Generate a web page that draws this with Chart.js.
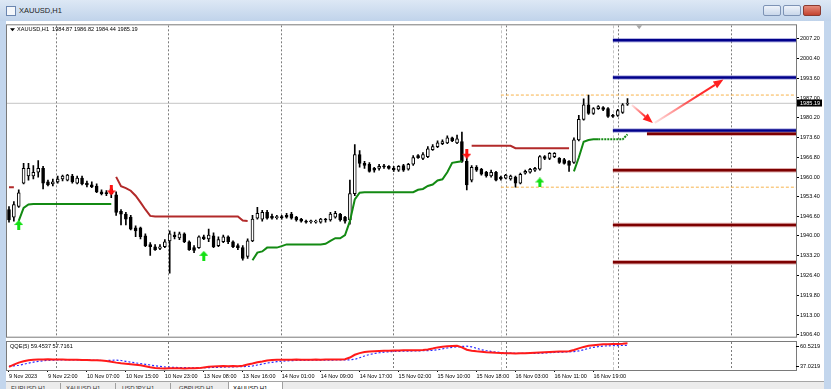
<!DOCTYPE html>
<html>
<head>
<meta charset="utf-8">
<script src="https://cdn.jsdelivr.net/npm/chart.js@4.4.1/dist/chart.umd.min.js"></script>
<style>
html, body { margin: 0; padding: 0; }
body { width: 831px; height: 389px; overflow: hidden; position: relative; background: #c3d6ed; font-family: 'Liberation Sans', Arial, sans-serif; }
#title { position: absolute; left: 0; top: 0; width: 831px; height: 21px; background: linear-gradient(#dde8f5, #c0d3ea); }
#ico { position: absolute; left: 6px; top: 6px; width: 8px; height: 8px; border: 1px solid #6b86b0; background: #f4f7fb; }
#ttl { position: absolute; left: 19px; top: 6px; font-size: 7.5px; color: #1e1e1e; }
.wbtn { position: absolute; top: 5px; width: 18px; height: 11px; border: 1px solid #7d93b5; border-radius: 2px; background: linear-gradient(#eef3fa, #c9d7ea); box-sizing: border-box; }
.wbtn.close { background: linear-gradient(#e58b7b, #c4432f); border-color: #8a3a30; }
#client { position: absolute; left: 6px; top: 21px; width: 818px; height: 360px; background: #fff; }
canvas { position: absolute; }
#main { left: 6px; top: 21px; }
#qqe { left: 6px; top: 341px; }
#tabs { position: absolute; left: 6px; top: 381px; width: 818px; height: 8px; background: #ececec; border-top: 1px solid #a5a5a5; overflow: hidden; box-sizing: border-box; }
.tab { position: absolute; top: 3px; font-size: 6px; color: #333; }
.sep { position: absolute; top: 1px; width: 1px; height: 8px; background: #a0a0a0; }
.act { position: absolute; left: 222px; top: -1px; width: 55px; height: 9px; background: #fff; border: 1px solid #a0a0a0; box-sizing: border-box; }
</style>
</head>
<body>
<div id="title">
  <div id="ico"></div>
  <span id="ttl">XAUUSD,H1</span>
  <div class="wbtn" style="left:763px"></div>
  <div class="wbtn" style="left:783px"></div>
  <div class="wbtn close" style="left:803px"></div>
</div>
<div id="client"></div>
<canvas id="main" width="818" height="320"></canvas>
<canvas id="qqe" width="818" height="40"></canvas>
<div id="tabs">
  <span class="tab" style="left:5px">EURUSD,H1</span>
  <div class="sep" style="left:54px"></div>
  <span class="tab" style="left:60px">XAUUSD,H1</span>
  <div class="sep" style="left:109px"></div>
  <span class="tab" style="left:116px">USDJPY,H1</span>
  <div class="sep" style="left:164px"></div>
  <span class="tab" style="left:173px">GBPUSD,H1</span>
  <div class="act"></div>
  <span class="tab" style="left:227px;color:#000">XAUUSD,H1</span>
</div>
<script>
const FONT = "'Liberation Sans', Arial, sans-serif";
Chart.defaults.font.family = FONT;
Chart.defaults.font.size = 5.5;
Chart.defaults.color = '#000';

// ---- data ----
const symbol = 'XAUUSD,H1';

const opens = [1949.0,1946.4,1950.0,1958.0,1960.4,1960.4,1961.7,1963.0,1958.4,1957.7,
  1958.4,1959.4,1959.0,1960.4,1958.0,1959.7,1958.0,1957.4,1957.0,1955.0,
  1954.7,1954.4,1954.0,1948.4,1947.4,1946.4,1942.7,1942.7,1940.0,1937.0,
  1936.3,1935.7,1936.3,1938.3,1940.3,1939.3,1940.7,1938.0,1936.0,1936.0,
  1939.7,1939.0,1940.0,1936.7,1938.0,1939.7,1938.0,1936.7,1936.0,1933.0,
  1938.3,1946.0,1945.7,1948.0,1946.7,1946.2,1946.4,1947.0,1947.4,1946.4,
  1945.7,1945.0,1944.8,1944.7,1944.7,1945.7,1945.4,1946.4,1947.4,1946.4,
  1945.4,1954.4,1967.7,1964.7,1964.4,1963.0,1963.0,1963.7,1963.7,1963.0,
  1962.4,1964.0,1962.7,1964.4,1967.4,1966.4,1967.0,1969.4,1970.4,1971.4,
  1971.7,1973.4,1971.7,1972.1,1965.4,1959.0,1963.4,1962.7,1961.7,1960.4,
  1961.7,1960.0,1959.7,1959.4,1960.0,1958.0,1961.4,1961.7,1962.4,1962.7,
  1967.0,1966.4,1967.0,1966.4,1966.0,1965.4,1965.0,1972.7,1979.7,1984.7,
  1981.7,1983.4,1983.7,1983.4,1981.1,1981.1,1982.1,1984.87];
const highs = [1950.0,1951.7,1955.7,1964.7,1964.7,1964.0,1965.7,1963.7,1959.0,1959.4,
  1960.4,1960.7,1961.0,1961.0,1960.4,1960.4,1958.7,1958.4,1957.7,1955.7,
  1955.4,1957.0,1955.0,1949.0,1948.0,1947.0,1943.4,1943.0,1940.7,1937.7,
  1937.0,1937.0,1938.7,1941.7,1941.3,1941.3,1941.0,1938.3,1936.7,1940.0,
  1940.3,1942.3,1941.0,1939.7,1940.3,1940.0,1938.3,1937.3,1936.7,1939.0,
  1947.0,1949.7,1948.7,1948.7,1947.4,1947.0,1947.0,1947.7,1948.0,1946.7,
  1946.0,1945.4,1945.4,1945.4,1946.0,1946.0,1948.0,1948.4,1947.7,1946.7,
  1959.0,1971.1,1969.1,1965.4,1965.0,1963.4,1964.4,1964.4,1964.0,1963.7,
  1964.0,1964.4,1964.7,1967.4,1967.7,1968.4,1970.4,1971.1,1972.4,1972.7,
  1974.1,1973.7,1974.4,1975.4,1966.7,1964.0,1964.0,1963.0,1962.0,1962.4,
  1962.0,1960.4,1961.0,1960.7,1960.4,1961.4,1962.4,1963.0,1963.4,1967.4,
  1967.4,1968.4,1968.4,1966.7,1966.4,1965.7,1973.4,1981.1,1986.7,1988.0,
  1983.7,1984.4,1984.1,1983.7,1981.4,1983.1,1985.1,1986.82];
const lows = [1944.7,1945.0,1949.7,1957.7,1959.0,1959.4,1960.0,1956.0,1957.0,1957.0,
  1958.0,1958.7,1958.7,1958.0,1957.7,1957.4,1956.7,1956.4,1954.7,1954.0,
  1953.7,1953.0,1947.0,1943.7,1943.7,1942.0,1939.7,1939.0,1936.3,1933.3,
  1935.0,1935.3,1936.0,1927.3,1939.0,1938.7,1937.7,1935.0,1934.3,1935.7,
  1938.7,1938.0,1936.0,1936.3,1937.7,1937.3,1936.0,1935.3,1931.7,1932.3,
  1938.0,1945.7,1945.0,1945.7,1945.7,1945.7,1945.7,1946.0,1945.7,1945.0,
  1944.7,1944.3,1944.3,1944.3,1944.3,1944.7,1945.0,1946.0,1945.0,1944.3,
  1944.0,1953.7,1963.4,1963.0,1961.7,1961.7,1962.4,1963.0,1962.7,1962.0,
  1962.0,1962.0,1962.4,1964.0,1966.4,1966.0,1966.7,1969.1,1970.1,1971.1,
  1971.4,1972.1,1971.4,1965.0,1955.7,1958.4,1962.0,1960.7,1960.0,1960.0,
  1958.7,1959.0,1959.4,1959.0,1956.6,1957.7,1961.0,1961.4,1962.0,1962.4,
  1966.0,1966.0,1966.7,1964.7,1964.4,1962.0,1964.7,1972.4,1979.4,1981.4,
  1981.4,1983.1,1982.7,1980.4,1980.4,1980.7,1981.7,1984.44];
const closes = [1945.4,1950.7,1954.7,1963.0,1963.0,1961.7,1963.0,1958.0,1957.4,1958.4,
  1959.4,1960.4,1960.7,1958.4,1959.7,1957.7,1957.4,1956.7,1955.0,1954.4,
  1954.4,1956.0,1948.0,1947.4,1945.7,1942.3,1941.7,1939.7,1936.7,1936.3,
  1935.3,1936.3,1938.0,1940.7,1939.7,1940.7,1938.0,1935.3,1935.0,1939.7,
  1939.0,1940.3,1936.3,1938.7,1939.7,1938.0,1936.3,1936.0,1932.3,1938.3,
  1945.7,1947.7,1948.0,1946.0,1946.0,1946.5,1946.2,1946.4,1946.0,1945.4,
  1945.0,1944.7,1945.0,1944.8,1945.7,1945.4,1947.4,1947.7,1945.4,1945.0,
  1954.4,1967.7,1964.7,1964.0,1962.0,1962.4,1963.7,1963.5,1963.0,1962.5,
  1963.7,1962.4,1964.4,1966.7,1966.7,1967.7,1969.7,1970.4,1971.7,1972.1,
  1973.4,1972.4,1973.1,1965.4,1957.4,1963.4,1962.4,1961.0,1960.4,1961.7,
  1959.0,1959.4,1960.7,1960.4,1958.0,1961.0,1962.0,1962.7,1963.0,1967.0,
  1966.4,1968.1,1968.1,1965.0,1964.7,1964.0,1972.7,1979.7,1984.7,1981.7,
  1983.4,1984.1,1983.1,1980.7,1980.7,1982.7,1984.7,1985.19];

// trend stop line: red above price, green below
const trendDown = [1956.6,1956.6,null,null,null,null,null,null,null,null,
  null,null,null,null,null,null,null,null,null,null,
  null,null,1960.1,1956.9,1956.3,1955.4,1953.7,1951.4,1949.0,1946.8,
  1946.6,1946.6,1946.6,1946.6,1946.6,1946.6,1946.6,1946.6,1946.6,1946.6,
  1946.6,1946.6,1946.6,1946.6,1946.6,1946.6,1946.6,1946.6,1945.2,1945.1,
  null,null,null,null,null,null,null,null,null,null,
  null,null,null,null,null,null,null,null,null,null,
  null,null,null,null,null,null,null,null,null,null,
  null,null,null,null,null,null,null,null,null,null,
  null,null,null,null,null,1970.7,1970.7,1970.7,1970.7,1970.7,
  1970.7,1970.7,1970.7,1970.7,1969.9,1969.9,1969.9,1969.9,1969.9,1969.9,
  1969.9,1969.9,1969.9,1969.9,1969.9,1969.9,null,null,null,null,
  null,null,null,null,null,null,null,null];
const trendUp = [null,null,1945.1,1949.5,1950.7,1950.9,1950.9,1950.9,1950.9,1950.9,
  1950.9,1950.9,1950.9,1950.9,1950.9,1950.9,1950.9,1950.9,1950.9,1950.9,
  1950.9,1950.9,null,null,null,null,null,null,null,null,
  null,null,null,null,null,null,null,null,null,null,
  null,null,null,null,null,null,null,null,null,null,
  1931.7,1934.3,1934.7,1936.0,1936.0,1936.0,1936.5,1937.1,1937.1,1937.1,
  1937.1,1937.1,1937.1,1937.1,1937.1,1937.3,1938.3,1939.2,1939.2,1940.3,
  1945.0,1952.4,1954.7,1954.9,1954.9,1954.9,1954.9,1954.9,1954.9,1954.9,
  1954.9,1954.9,1954.9,1954.9,1955.7,1956.0,1957.0,1957.5,1958.9,1959.3,
  1961.7,1964.9,1965.2,1965.4,null,null,null,null,null,null,
  null,null,null,null,null,null,null,null,null,null,
  null,null,null,null,null,null,1962.0,1966.7,1972.1,1972.7,
  1972.9,1972.9,1972.9,1972.9,1972.9,1972.9,1972.9,1974.6];

const buyIdx = [2, 40, 109];
const buyPrice = [1943.7, 1933.2, 1958.2];
const sellIdx = [21, 94];
const sellPrice = [1955.5, 1968.0];

const resistLevels = [2006.67, 1993.98, 1975.96];
const supportLevels = [1974.83, 1962.37, 1943.68, 1930.99];
const resistFrom = [124, 124, 124];
const supportFrom = [131, 124, 124, 124];

const dayStart = 101;
const dayHigh = 1988.0;
const dayLow = 1956.6;
const daySeparators = [101, 124];

// hand drawn arrows (bar index, price)
const arrowFromX = [127.9, 132.6];
const arrowFromY = [1984.6, 1978.5];
const arrowToX = [132.2, 146.7];
const arrowToY = [1978.5, 1993.3];

const priceTicks = [2007.20, 2000.40, 1993.60, 1987.00, 1980.20, 1973.60, 1966.80, 1960.00,
  1953.40, 1946.60, 1940.00, 1933.20, 1926.40, 1919.80, 1913.00, 1906.40];

const dateIdx = [0, 8, 16, 24, 32, 40, 48, 56, 64, 72, 80, 88, 96, 104, 112, 120];
const dateLabels = ['9 Nov 2023', '9 Nov 22:00', '10 Nov 07:00', '10 Nov 15:00', '10 Nov 23:00',
  '13 Nov 08:00', '13 Nov 16:00', '14 Nov 01:00', '14 Nov 09:00', '14 Nov 17:00',
  '15 Nov 02:00', '15 Nov 10:00', '15 Nov 18:00', '16 Nov 03:00', '16 Nov 11:00', '16 Nov 19:00'];

const qqeFast = [39.7,41.5,43.2,44.4,45.2,45.7,45.8,45.9,46.0,45.9,
  45.8,45.8,45.7,45.7,45.6,45.5,45.4,45.3,45.2,45.0,
  44.6,44.0,43.2,42.6,42.2,41.8,41.4,41.0,40.2,39.3,
  38.7,38.4,38.3,38.5,38.4,38.4,38.3,38.4,38.4,38.6,
  39.2,39.7,39.9,40.1,40.3,40.2,40.3,40.2,40.6,41.6,
  42.5,43.5,44.2,45.0,45.4,45.6,45.7,45.6,45.7,45.8,
  45.7,45.6,45.7,45.8,45.7,45.8,45.9,45.8,45.9,46.1,
  47.5,49.8,51.2,52.2,52.6,52.8,53.0,53.1,53.2,53.3,
  53.4,53.5,53.5,53.6,53.6,53.8,54.2,55.0,56.0,56.6,
  56.9,57.2,57.3,56.0,54.0,53.2,52.7,52.4,52.0,51.7,
  51.4,51.2,51.0,51.0,50.9,51.0,51.1,51.3,51.5,51.7,
  51.9,52.1,52.3,52.5,52.6,52.7,53.8,55.2,56.4,57.3,
  57.8,58.3,58.6,58.7,58.8,58.9,59.1,59.4537];
const qqeSlow = [40.3,40.5,41.0,41.8,42.8,43.6,44.3,44.8,45.1,45.3,
  45.4,45.4,45.4,45.4,45.4,45.3,45.3,45.2,45.1,45.0,
  45.0,45.2,45.3,45.0,44.3,43.6,43.0,42.4,41.8,41.2,
  40.6,40.0,39.6,39.4,39.2,39.1,39.0,38.9,38.9,38.9,
  38.9,39.0,39.2,39.3,39.5,39.6,39.7,39.8,39.9,40.0,
  40.4,41.2,42.0,42.8,43.5,44.0,44.4,44.7,44.9,45.0,
  45.1,45.1,45.2,45.2,45.2,45.3,45.3,45.4,45.4,45.5,
  45.6,46.0,47.3,48.8,50.0,50.8,51.5,52.0,52.3,52.5,
  52.7,52.8,52.9,53.0,53.1,53.2,53.3,53.5,54.0,54.8,
  55.5,56.0,56.4,56.8,57.0,56.5,55.3,54.0,53.2,52.6,
  52.1,51.7,51.4,51.2,51.1,51.0,50.9,50.9,51.0,51.1,
  51.3,51.5,51.7,51.9,52.1,52.3,52.5,53.0,54.0,55.2,
  56.0,56.7,57.1,57.3,57.4,57.5,57.6,57.7161];
const qqeMax = 60.5219;
const qqeMin = 37.0219;

// ---- view ----
const xMin = -0.41, xMax = 161.6;
const pMin = 1905.63, pMax = 2011.78;
const gridStart = 9.65, gridStep = 23.1;

const idx = closes.map((_, i) => i);
const pts = arr => arr.map((v, i) => ({ x: i, y: v }));
const hline = (from, level) => [{ x: from, y: level }, { x: xMax + 1, y: level }];

function arrowGlyph(color, up) {
    const c = document.createElement('canvas');
    c.width = 9; c.height = 10;
    const g = c.getContext('2d');
    g.fillStyle = color;
    g.beginPath();
    if (up) {
        g.moveTo(4.5, 0); g.lineTo(9, 5); g.lineTo(6, 5); g.lineTo(6, 10);
        g.lineTo(3, 10); g.lineTo(3, 5); g.lineTo(0, 5);
    } else {
        g.moveTo(4.5, 10); g.lineTo(9, 5); g.lineTo(6, 5); g.lineTo(6, 0);
        g.lineTo(3, 0); g.lineTo(3, 5); g.lineTo(0, 5);
    }
    g.closePath(); g.fill();
    return c;
}

function vLines(chart) {
    const { ctx, chartArea: a, scales: { x } } = chart;
    ctx.save();
    ctx.beginPath(); ctx.rect(a.left, a.top, a.right - a.left, a.bottom - a.top); ctx.clip();
    ctx.lineWidth = 1;
    ctx.strokeStyle = '#7c7c7c';
    ctx.setLineDash([2, 2]);
    for (let v = gridStart; v <= x.max; v += gridStep) {
        const px = Math.round(x.getPixelForValue(v)) + 0.5;
        ctx.beginPath(); ctx.moveTo(px, a.top); ctx.lineTo(px, a.bottom); ctx.stroke();
    }
    ctx.strokeStyle = '#c4c4c4';
    ctx.setLineDash([3, 2]);
    daySeparators.forEach(v => {
        const px = Math.round(x.getPixelForValue(v)) + 0.5;
        ctx.beginPath(); ctx.moveTo(px, a.top); ctx.lineTo(px, a.bottom); ctx.stroke();
    });
    ctx.restore();
}

function frame(chart) {
    const { ctx, chartArea: a } = chart;
    ctx.save();
    ctx.strokeStyle = '#7a7a7a';
    ctx.lineWidth = 1;
    ctx.strokeRect(a.left - 0.5, a.top - 0.5, a.right - a.left + 1, a.bottom - a.top + 1);
    ctx.restore();
}

const gridPlugin = { id: 'paneGrid', beforeDatasetsDraw: vLines };
const framePlugin = { id: 'paneFrame', afterDraw: frame };

const mainExtras = {
    id: 'mainExtras',
    afterDatasetsDraw(chart) {
        const { ctx, chartArea: a, scales: { x, y } } = chart;
        ctx.save();
        ctx.beginPath(); ctx.rect(a.left, a.top, a.right - a.left, a.bottom - a.top); ctx.clip();
        arrowFromX.forEach((_, k) => {
            const x0 = x.getPixelForValue(arrowFromX[k]), y0 = y.getPixelForValue(arrowFromY[k]);
            const x1 = x.getPixelForValue(arrowToX[k]), y1 = y.getPixelForValue(arrowToY[k]);
            const ang = Math.atan2(y1 - y0, x1 - x0);
            const hl = 10, hw = 4;
            const bx = x1 - hl * Math.cos(ang), by = y1 - hl * Math.sin(ang);
            const g = ctx.createLinearGradient(x0, y0, x1, y1);
            g.addColorStop(0, 'rgba(255,60,60,0.15)');
            g.addColorStop(0.6, 'rgba(255,30,30,0.9)');
            g.addColorStop(1, 'rgba(255,20,20,1)');
            ctx.strokeStyle = g; ctx.lineWidth = 2;
            ctx.beginPath(); ctx.moveTo(x0, y0); ctx.lineTo(bx, by); ctx.stroke();
            ctx.fillStyle = '#ff2020';
            ctx.beginPath();
            ctx.moveTo(x1, y1);
            ctx.lineTo(bx + hw * Math.sin(ang), by - hw * Math.cos(ang));
            ctx.lineTo(bx - hw * Math.sin(ang), by + hw * Math.cos(ang));
            ctx.closePath(); ctx.fill();
        });
        ctx.restore();
    },
    afterDraw(chart) {
        const { ctx, chartArea: a, scales: { x, y } } = chart;
        const n = closes.length - 1;
        ctx.save();
        // header
        ctx.fillStyle = '#000';
        ctx.beginPath(); ctx.moveTo(a.left + 3, a.top + 3); ctx.lineTo(a.left + 8, a.top + 3); ctx.lineTo(a.left + 5.5, a.top + 6); ctx.closePath(); ctx.fill();
        ctx.font = '5.6px ' + FONT;
        ctx.textBaseline = 'middle';
        ctx.fillText(symbol + '  ' + [opens[n], highs[n], lows[n], closes[n]].map(v => v.toFixed(2)).join(' '), a.left + 10, a.top + 4.5);
        // shift marker
        const sx = x.getPixelForValue(129.4);
        ctx.fillStyle = '#a8a8a8';
        ctx.beginPath(); ctx.moveTo(sx - 3, a.top); ctx.lineTo(sx + 3, a.top); ctx.lineTo(sx, a.top + 4); ctx.closePath(); ctx.fill();
        // current price box on axis
        const py = y.getPixelForValue(closes[n]);
        ctx.fillStyle = '#000';
        ctx.fillRect(a.right + 1, Math.round(py) - 3.5, 25, 7);
        ctx.fillStyle = '#fff';
        ctx.fillText(closes[n].toFixed(2), a.right + 4, py);
        ctx.restore();
    }
};

const upImg = arrowGlyph('#14e014', true);
const downImg = arrowGlyph('#ff1010', false);

const levelSets = [];
resistLevels.forEach((lv, k) => {
    levelSets.push({ type: 'line', data: hline(resistFrom[k], lv), borderColor: 'rgba(90,90,190,0.45)', borderWidth: 4.5, pointRadius: 0, order: 9 });
    levelSets.push({ type: 'line', data: hline(resistFrom[k], lv), borderColor: '#00008b', borderWidth: 2.5, pointRadius: 0, order: 8 });
});
supportLevels.forEach((lv, k) => {
    levelSets.push({ type: 'line', data: hline(supportFrom[k], lv), borderColor: 'rgba(190,90,90,0.5)', borderWidth: 4.5, pointRadius: 0, order: 9 });
    levelSets.push({ type: 'line', data: hline(supportFrom[k], lv), borderColor: '#7d0000', borderWidth: 2.5, pointRadius: 0, order: 8 });
});

new Chart(document.getElementById('main'), {
    type: 'bar',
    data: {
        datasets: [
            { type: 'line', data: [{ x: xMin, y: closes[closes.length - 1] }, { x: xMax + 1, y: closes[closes.length - 1] }], borderColor: '#c4c4c4', borderWidth: 1, pointRadius: 0, order: 12 },
            { type: 'line', data: hline(dayStart, dayHigh), borderColor: '#f7b24a', borderWidth: 1, borderDash: [3, 2], pointRadius: 0, order: 11 },
            { type: 'line', data: hline(dayStart, dayLow), borderColor: '#f7b24a', borderWidth: 1, borderDash: [3, 2], pointRadius: 0, order: 11 },
            ...levelSets,
            { type: 'bar', data: idx.map(i => ({ x: i, y: [lows[i], highs[i]] })), backgroundColor: '#000', barThickness: 1, grouped: false, minBarLength: 1, order: 6 },
            { type: 'bar', data: idx.map(i => ({ x: i, y: [opens[i], closes[i]] })), backgroundColor: idx.map(i => closes[i] >= opens[i] ? '#ffffff' : '#000000'), borderColor: '#000', borderWidth: 1, borderSkipped: false, barThickness: 3, grouped: false, minBarLength: 1, order: 5 },
            { type: 'line', data: pts(trendDown), borderColor: '#b22a2a', borderWidth: 2, pointRadius: 0, spanGaps: false, order: 3 },
            { type: 'line', data: pts(trendUp), borderColor: '#138a13', borderWidth: 2, pointRadius: 0, spanGaps: false, order: 3,
              segment: { borderDash: c => c.p0DataIndex >= daySeparators[1] - 3 ? [2, 1] : undefined } },
            { type: 'scatter', data: buyIdx.map((v, k) => ({ x: v, y: buyPrice[k] })), pointStyle: upImg, pointRadius: 5, order: 1 },
            { type: 'scatter', data: sellIdx.map((v, k) => ({ x: v, y: sellPrice[k] })), pointStyle: downImg, pointRadius: 5, order: 1 }
        ]
    },
    options: {
        responsive: false,
        animation: false,
        events: [],
        layout: { autoPadding: false, padding: { left: 1, top: 1, right: 0, bottom: 1 } },
        plugins: { legend: { display: false }, tooltip: { enabled: false } },
        scales: {
            x: { type: 'linear', min: xMin, max: xMax, offset: false, display: false },
            y: {
                position: 'right', min: pMin, max: pMax,
                afterBuildTicks: s => { s.ticks = priceTicks.map(v => ({ value: v })); },
                afterFit: s => { s.width = 28; },
                ticks: { autoSkip: false, padding: 1, callback: v => v.toFixed(2), font: { size: 5.5 } },
                grid: { drawOnChartArea: false, tickLength: 3, color: '#000' },
                border: { color: '#7a7a7a' }
            }
        }
    },
    plugins: [gridPlugin, framePlugin, mainExtras]
});

const qqeExtras = {
    id: 'qqeExtras',
    afterDraw(chart) {
        const { ctx, chartArea: a } = chart;
        ctx.save();
        ctx.fillStyle = '#000';
        ctx.font = '5.6px ' + FONT;
        ctx.textBaseline = 'middle';
        ctx.fillText('QQE(5) ' + qqeFast[qqeFast.length - 1].toFixed(4) + ' ' + qqeSlow[qqeSlow.length - 1].toFixed(4), a.left + 3, a.top + 4);
        ctx.fillText(qqeMax.toFixed(4), a.right + 4, a.top + 4);
        ctx.fillText(qqeMin.toFixed(4), a.right + 4, a.bottom - 4);
        ctx.fillRect(a.right, a.top + 4, 3, 1);
        ctx.fillRect(a.right, a.bottom - 4, 3, 1);
        ctx.restore();
    }
};

new Chart(document.getElementById('qqe'), {
    type: 'line',
    data: {
        datasets: [
            { data: pts(qqeSlow), borderColor: '#2b2bff', borderWidth: 1.2, borderDash: [2, 2], pointRadius: 0, order: 2 },
            { data: pts(qqeFast), borderColor: '#ff1a1a', borderWidth: 2, pointRadius: 0, order: 1 }
        ]
    },
    options: {
        responsive: false,
        animation: false,
        events: [],
        layout: { autoPadding: false, padding: { left: 1, top: 1, right: 0, bottom: 0 } },
        plugins: { legend: { display: false }, tooltip: { enabled: false } },
        scales: {
            x: {
                type: 'linear', min: xMin, max: xMax, offset: false,
                afterBuildTicks: s => { s.ticks = dateIdx.map(v => ({ value: v })); },
                afterFit: s => { s.height = 11; },
                ticks: { autoSkip: false, maxRotation: 0, align: 'start', padding: 1, callback: (v, i) => dateLabels[i], font: { size: 5.5 } },
                grid: { drawOnChartArea: false, tickLength: 2, color: '#000' },
                border: { color: '#7a7a7a' }
            },
            y: {
                position: 'right', min: qqeMin, max: qqeMax,
                afterFit: s => { s.width = 28; },
                ticks: { display: false },
                grid: { drawOnChartArea: false, drawTicks: false },
                border: { color: '#7a7a7a' }
            }
        }
    },
    plugins: [gridPlugin, framePlugin, qqeExtras]
});
</script>
</body>
</html>
